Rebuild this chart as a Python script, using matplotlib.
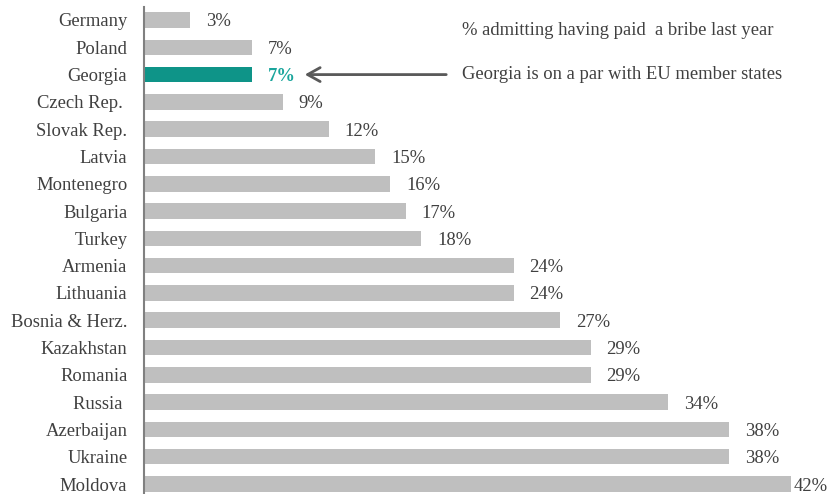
import matplotlib.pyplot as plt

countries = ["Germany", "Poland", "Georgia", "Czech Rep. ", "Slovak Rep.", "Latvia",
             "Montenegro", "Bulgaria", "Turkey", "Armenia", "Lithuania",
             "Bosnia & Herz.", "Kazakhstan", "Romania", "Russia ", "Azerbaijan",
             "Ukraine", "Moldova"]
bribe_pct = [3, 7, 7, 9, 12, 15, 16, 17, 18, 24, 24, 27, 29, 29, 34, 38, 38, 42]
highlight = "Georgia"

plt.rcParams['font.family'] = ['Liberation Serif', 'DejaVu Serif']

grey = '#bfbfbf'
teal = '#0e9488'
teal_text = '#1aa59c'
text_col = '#404040'
fs = 13.4

px_per_pct = 15.4
left_px = 144

fig = plt.figure(figsize=(8.31, 4.94), dpi=100)
ax = fig.add_axes([left_px / 831, 0, 1 - left_px / 831, 1 - 7 / 494])

ypos = list(range(len(countries)))
colors = [teal if c == highlight else grey for c in countries]
ax.barh(ypos, bribe_pct, height=0.57, color=colors, zorder=2)

ax.set_ylim(len(countries) - 1 + 10 / 27.3, -13 / 27.3)
ax.set_xlim(0, (831 - left_px) / px_per_pct)

ax.set_yticks(ypos)
ax.set_yticklabels(countries, fontsize=fs, color=text_col)
ax.tick_params(axis='y', length=0, pad=12)
ax.set_xticks([])

for side in ['top', 'right', 'bottom']:
    ax.spines[side].set_visible(False)
ax.spines['left'].set_color('#808080')
ax.spines['left'].set_linewidth(1.5)
ax.spines['left'].set_zorder(3)

for y, (c, v) in enumerate(zip(countries, bribe_pct)):
    off = 3 if v == max(bribe_pct) else 16
    if c == highlight:
        ax.annotate(f"{v}%", (v, y), xytext=(off, -2), textcoords='offset pixels',
                    va='center', ha='left', fontsize=fs, color=teal_text,
                    fontweight='bold')
    else:
        ax.annotate(f"{v}%", (v, y), xytext=(off, -2), textcoords='offset pixels',
                    va='center', ha='left', fontsize=fs, color=text_col)

# note text and arrow pointing at Georgia's label
note_x = (462 - left_px) / px_per_pct
gy = countries.index(highlight)
ax.text(note_x, gy - 1.6, "% admitting having paid  a bribe last year",
        fontsize=fs, color=text_col, va='center', ha='left')
ax.text(note_x, gy, "Georgia is on a par with EU member states",
        fontsize=fs, color=text_col, va='center', ha='left')
ax.annotate("", xy=((302 - left_px) / px_per_pct, gy),
            xytext=((449 - left_px) / px_per_pct, gy),
            arrowprops=dict(arrowstyle='->,head_length=0.9,head_width=0.5',
                            color='#595959', lw=2))

fig.savefig("out.png", dpi=100)
